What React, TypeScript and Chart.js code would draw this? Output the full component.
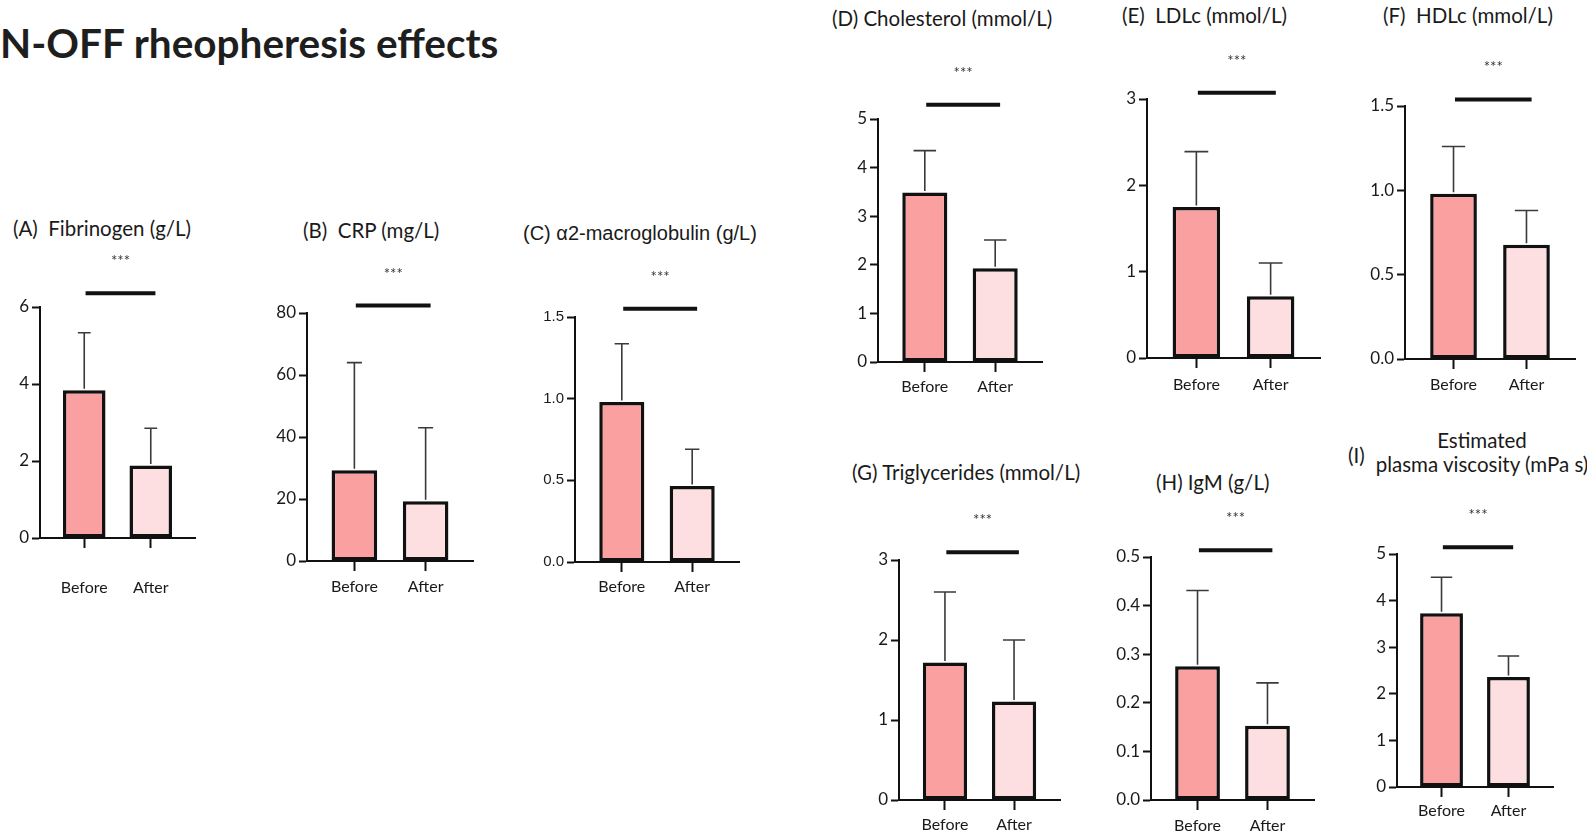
import React, { useEffect, useRef } from "react";
import { Chart, registerables } from "chart.js";
Chart.register(...registerables);

// ---------- data ----------
const mainTitle = "N-OFF rheopheresis effects";
const categories = ["Before", "After"];
const panelTitles = [
  "(A)  Fibrinogen (g/L)",
  "(B)  CRP (mg/L)",
  "(C) α2-macroglobulin (g/L)",
  "(D) Cholesterol (mmol/L)",
  "(E)  LDLc (mmol/L)",
  "(F)  HDLc (mmol/L)",
  "(G) Triglycerides (mmol/L)",
  "(H) IgM (g/L)",
  "(I)",
];
const panelISubtitle = ["Estimated", "plasma viscosity (mPa s)"];
const meanBefore = [3.84, 29.3, 0.98, 3.49, 1.75, 0.98, 1.72, 0.275, 3.73];
const meanAfter = [1.88, 19.3, 0.465, 1.93, 0.714, 0.677, 1.23, 0.153, 2.36];
const sdBefore = [1.49, 34.7, 0.356, 0.86, 0.64, 0.28, 0.88, 0.156, 0.77];
const sdAfter = [0.97, 23.7, 0.225, 0.58, 0.386, 0.203, 0.77, 0.088, 0.45];
const yMax = [6, 80, 1.5, 5, 3, 1.5, 3, 0.5, 5];
const yStep = [2, 20, 0.5, 1, 1, 0.5, 1, 0.1, 1];
const yDecimals = [0, 0, 1, 0, 0, 1, 0, 1, 0];
const sigLevel = [6.36, 82.4, 1.551, 5.295, 3.073, 1.539, 3.096, 0.514, 5.145];
const sigText = "***";

// ---------- layout (page pixels) and styles ----------
const axisX = [40, 307, 575, 878, 1147, 1405, 899, 1151, 1397];
const zeroY = [538, 561, 562, 362, 358, 359, 800, 800, 787];
const topY = [307, 313, 317, 119, 99, 106, 560, 557, 554];
const rightX = [195, 473, 739, 1042, 1320, 1575, 1060, 1314, 1553];
const labelGap = [50, 26, 25, 25, 27, 26, 25, 26, 24];
const titleLeft = [13, 303, 523, 832, 1122, 1383, 852, 1156, 1348];
const titleY = [228, 230, 233, 18, 15, 15, 472, 482, 455];
const capFrac = [0.3, 0.33, 0.32, 0.5, 0.5, 0.5, 0.5, 0.5, 0.5];

const FONT = "Lato, 'Open Sans', sans-serif";
const FONT_C = "'Liberation Sans', Arial, sans-serif";
const COL_BEFORE = "#fba0a1";
const COL_AFTER = "#fddfe2";
const INK = "#111111";
const TEXT = "#1a1a1a";

const Y_AXIS_W = 60;
const TOP_PAD = 75;
const RIGHT_PAD = 12;

function makeAnnotPlugin(i: number) {
  return {
    id: "annot" + i,
    afterDatasetsDraw(chart: any) {
      const { ctx } = chart;
      const x = chart.scales.x;
      const y = chart.scales.y;
      const meta = chart.getDatasetMeta(0);
      const means = [meanBefore[i], meanAfter[i]];
      const sds = [sdBefore[i], sdAfter[i]];
      ctx.save();
      meta.data.forEach((bar: any, j: number) => {
        const cx = bar.x;
        const y0 = y.getPixelForValue(means[j]);
        const y1 = y.getPixelForValue(means[j] + sds[j]);
        const cap = bar.width * capFrac[i];
        ctx.strokeStyle = "#3a3a3a";
        ctx.lineWidth = 1.6;
        ctx.beginPath();
        ctx.moveTo(cx, y0 - 1.5);
        ctx.lineTo(cx, y1);
        ctx.moveTo(cx - cap / 2, y1);
        ctx.lineTo(cx + cap / 2, y1);
        ctx.stroke();
      });
      // significance bar
      const ys = y.getPixelForValue(sigLevel[i]);
      const xa = x.getPixelForValue(0.02);
      const xb = x.getPixelForValue(1.07);
      ctx.strokeStyle = INK;
      ctx.lineWidth = 4;
      ctx.beginPath();
      ctx.moveTo(xa, ys);
      ctx.lineTo(xb, ys);
      ctx.stroke();
      ctx.fillStyle = "#333";
      ctx.font = "15px " + FONT;
      ctx.textAlign = "center";
      ctx.textBaseline = "alphabetic";
      ctx.fillText(sigText, (xa + xb) / 2, ys - 36 + 9);
      ctx.restore();
    },
  };
}

function Panel({ i }: { i: number }) {
  const ref = useRef<HTMLCanvasElement>(null);
  const xAxisH = labelGap[i] + 16;
  const left = axisX[i] - Y_AXIS_W;
  const top = topY[i] - TOP_PAD;
  const w = rightX[i] - axisX[i] + Y_AXIS_W + RIGHT_PAD;
  const h = TOP_PAD + (zeroY[i] - topY[i]) + xAxisH;

  useEffect(() => {
    const lineH = 16 * 1.2;
    const chart = new Chart(ref.current as HTMLCanvasElement, {
      type: "bar",
      data: {
        datasets: [
          {
            data: [
              { x: 0, y: meanBefore[i] },
              { x: 1, y: meanAfter[i] },
            ],
            backgroundColor: [COL_BEFORE, COL_AFTER],
            borderColor: INK,
            borderWidth: 3.5,
            borderSkipped: false,
            barPercentage: 0.64,
            categoryPercentage: 1,
          },
        ],
      },
      options: {
        animation: false,
        responsive: false,
        devicePixelRatio: 1,
        events: [],
        layout: { padding: { top: TOP_PAD, right: RIGHT_PAD, left: 0, bottom: 0 } },
        plugins: { legend: { display: false }, tooltip: { enabled: false }, title: { display: false } },
        scales: {
          x: {
            type: "linear",
            offset: false,
            min: -0.665,
            max: 1.665,
            afterFit: (s: any) => {
              s.height = xAxisH;
            },
            afterBuildTicks: (s: any) => {
              s.ticks = [{ value: 0 }, { value: 1 }];
            },
            grid: {
              display: true,
              offset: false,
              drawOnChartArea: false,
              drawTicks: true,
              tickLength: 10,
              tickWidth: 2,
              tickColor: INK,
              color: INK,
            },
            border: { display: true, color: INK, width: 2 },
            ticks: {
              autoSkip: false,
              maxRotation: 0,
              padding: labelGap[i] - 10 - lineH / 2,
              color: TEXT,
              font: { family: FONT, size: 16 },
              callback: (v: any) => categories[Math.round(Number(v))] ?? "",
            },
          },
          y: {
            type: "linear",
            min: 0,
            max: yMax[i],
            afterFit: (s: any) => {
              s.width = Y_AXIS_W;
            },
            grid: {
              display: true,
              drawOnChartArea: false,
              drawTicks: true,
              tickLength: 8,
              tickWidth: 2,
              tickColor: INK,
              color: INK,
            },
            border: { display: true, color: INK, width: 2 },
            ticks: {
              stepSize: yStep[i],
              padding: 3,
              color: TEXT,
              font: { family: i === 2 ? FONT_C : FONT, size: i === 2 ? 15 : 17 },
              callback: (v: any) => Number(v).toFixed(yDecimals[i]),
            },
          },
        },
      },
      plugins: [makeAnnotPlugin(i)],
    } as any);
    return () => chart.destroy();
  }, []);

  return (
    <canvas
      ref={ref}
      width={w}
      height={h}
      style={{ position: "absolute", left, top, width: w, height: h }}
    />
  );
}

export default function App() {
  return (
    <div
      style={{
        position: "fixed",
        left: 0,
        top: 0,
        width: 1587,
        height: 833,
        background: "#fff",
        overflow: "hidden",
      }}
    >
      <div
        style={{
          position: "absolute",
          left: 0,
          top: 43,
          transform: "translateY(-50%)",
          font: "bold 40.5px " + FONT,
          color: "#1e1e1e",
          whiteSpace: "pre",
          lineHeight: 1,
        }}
      >
        {mainTitle}
      </div>
      {panelTitles.map((t, i) => (
        <div
          key={"t" + i}
          style={{
            position: "absolute",
            left: titleLeft[i],
            top: titleY[i],
            transform: "translateY(-50%)",
            fontFamily: i === 2 ? FONT_C : FONT,
            fontSize: i === 2 ? 20 : 20.5,
            color: TEXT,
            whiteSpace: "pre",
            lineHeight: 1,
          }}
        >
          {t}
        </div>
      ))}
      <div
        style={{
          position: "absolute",
          left: 1372,
          width: 220,
          top: 428,
          textAlign: "center",
          fontFamily: FONT,
          fontSize: 20.5,
          color: TEXT,
          lineHeight: "24px",
          whiteSpace: "pre",
        }}
      >
        {panelISubtitle[0]}
        {"\n"}
        {panelISubtitle[1]}
      </div>
      {panelTitles.map((_, i) => (
        <Panel key={"p" + i} i={i} />
      ))}
    </div>
  );
}
